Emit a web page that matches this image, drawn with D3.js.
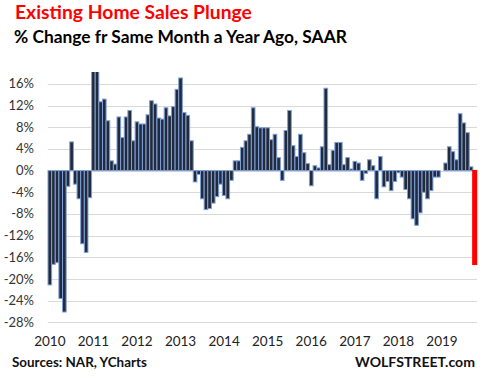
<!DOCTYPE html>
<html>
<head>
<meta charset="utf-8">
<script src="https://cdn.jsdelivr.net/npm/d3@7/dist/d3.min.js"></script>
<style>
  html, body { margin: 0; padding: 0; background: #fff; }
  svg { display: block; }
  text { font-family: Lato, "Open Sans", sans-serif; }
</style>
</head>
<body>
<svg id="chart" width="482" height="378"></svg>
<script>
// ---- Data ----
const years = ["2010","2011","2012","2013","2014","2015","2016","2017","2018","2019"];
const yTicks = [16, 12, 8, 4, 0, -4, -8, -12, -16, -20, -24, -28];
// monthly YoY % change, Jan 2010 onward (first two 2011 bars run off the top)
const yoyChange = [
  -21.1, -17.3, -17.0, -23.6, -26.1, -2.9, 5.3, -2.5, -5.2, -13.5, -15.1, -5.0,
  20.0, 20.0, 12.7, 13.2, 9.2, 1.8, 1.2, 9.9, 6.1, 9.9, 11.1, 5.5,
  9.0, 8.6, 8.6, 10.3, 12.9, 12.3, 9.7, 9.5, 11.6, 10.1, 11.8, 15.0,
  17.1, 10.7, 10.2, 5.5, -2.1, -0.7, -5.2, -7.2, -7.0, -6.0, -4.8, -2.5,
  -4.6, -5.2, -1.8, 1.8, 1.8, 4.3, 5.5, 6.7, 11.6, 8.1, 7.9, 7.9,
  7.9, 5.7, 6.7, 2.4, -1.8, 7.4, 11.1, 4.6, 2.6, 6.7, 3.3, 1.3,
  -2.8, 0.9, 0.5, 4.4, 15.2, 1.1, 3.7, 5.2, 5.2, 1.1, 2.4, 0.3,
  1.7, 1.4, -1.8, -0.5, 2.0, 0.9, -5.2, 2.6, -3.0, -2.0, -3.7, -2.0,
  -0.4, -1.2, -3.5, -5.2, -8.9, -10.1, -7.8, -4.0, -5.2, -3.7, -1.2, -1.2,
  0.0, 1.4, 4.4, 3.5, 2.0, 10.5, 8.8, 7.0, 0.7
];
const latestIndex = [117];
const latestValue = [-17.3];

// ---- Layout ----
const svg = d3.select("#chart");
const W = 482, H = 378;
const plot = { left: 48, right: 476.5, top: 72, bottom: 322.3 };
const nMonths = yoyChange.length + latestValue.length;

const x = d3.scaleBand().domain(d3.range(nMonths)).range([plot.left, plot.right]).padding(0);
const y = d3.scaleLinear().domain([-28, 18.2]).range([plot.bottom, plot.top]);

// gridlines
svg.append("g").selectAll("line").data(yTicks).join("line")
  .attr("x1", plot.left).attr("x2", plot.right + 0.5)
  .attr("y1", d => Math.round(y(d)) + 0.5).attr("y2", d => Math.round(y(d)) + 0.5)
  .attr("stroke", "#d9d9d9").attr("stroke-width", 1);

// y tick labels
svg.append("g").selectAll("text").data(yTicks).join("text")
  .attr("x", 34).attr("y", d => y(d)).attr("dy", "0.35em")
  .attr("text-anchor", "end").attr("font-size", 13).attr("fill", "#333")
  .text(d => d + "%");

// clip
svg.append("clipPath").attr("id", "clip").append("rect")
  .attr("x", 0).attr("y", plot.top).attr("width", W).attr("height", plot.bottom - plot.top + 10);

// bars
svg.append("g").attr("clip-path", "url(#clip)").selectAll("rect")
  .data(yoyChange.map((v, i) => ({ i, v })).filter(d => d.v !== 0))
  .join("rect")
  .attr("x", d => x(d.i))
  .attr("width", x.bandwidth())
  .attr("y", d => y(Math.max(0, d.v)))
  .attr("height", d => Math.abs(y(d.v) - y(0)))
  .attr("fill", "#222b3c")
  .attr("stroke", "#7f9fd8")
  .attr("stroke-width", 1);

// latest month (red)
svg.append("g").selectAll("rect")
  .data(latestIndex.map((i, k) => ({ i, v: latestValue[k] })))
  .join("rect")
  .attr("x", d => x(d.i))
  .attr("width", x.bandwidth())
  .attr("y", d => y(Math.max(0, d.v)))
  .attr("height", d => Math.abs(y(d.v) - y(0)))
  .attr("fill", "#ff0000")
  .attr("stroke", "#ff0000")
  .attr("stroke-width", 1.4);

// x labels (January of each year)
svg.append("g").selectAll("text").data(years).join("text")
  .attr("x", (d, k) => x(k * 12) + x.bandwidth() / 2)
  .attr("y", 345.5)
  .attr("text-anchor", "middle").attr("font-size", 13.5).attr("fill", "#222")
  .text(d => d);

function fit(sel, target) {
  const w = sel.node().getComputedTextLength();
  const fs = parseFloat(sel.attr("font-size"));
  sel.attr("font-size", (fs * target / w).toFixed(2));
}

// titles
const t1 = svg.append("text").attr("x", 15).attr("y", 18.5)
  .attr("font-size", 18).attr("font-weight", "bold").attr("fill", "#ff0000")
  .text("Existing Home Sales Plunge");
fit(t1, 237);
const t2 = svg.append("text").attr("x", 14).attr("y", 42.5)
  .attr("font-size", 16).attr("font-weight", "bold").attr("fill", "#000")
  .text("% Change fr Same Month a Year Ago, SAAR");
fit(t2, 333);

// footer
const s = svg.append("text").attr("x", 12).attr("y", 367)
  .attr("font-size", 13).attr("font-weight", "bold").attr("fill", "#111")
  .text("Sources: NAR, YCharts");
fit(s, 135);
const wsj = svg.append("text").attr("x", 475).attr("y", 367.3)
  .attr("text-anchor", "end")
  .attr("font-size", 13.5).attr("font-weight", "bold").attr("fill", "#111")
  .text("WOLFSTREET.com");
fit(wsj, 120);
</script>
</body>
</html>
